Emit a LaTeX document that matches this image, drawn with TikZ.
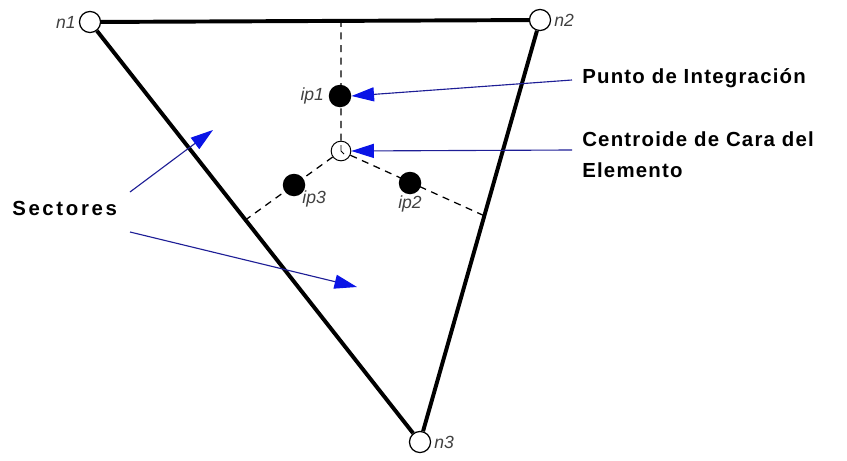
\documentclass[tikz,border=0pt]{standalone}
\usepackage{fontspec}
\setmainfont{Liberation Sans}
\usepackage{tikz}
\usetikzlibrary{positioning, arrows.meta}
\definecolor{tipblue}{HTML}{0A14E6}
\definecolor{lineblue}{HTML}{1E1E96}
\definecolor{labelgray}{HTML}{404040}

\begin{document}
\begin{tikzpicture}[x=0.025cm, y=-0.025cm,
            vertex/.style={circle, draw=black, fill=white, line width=0.9pt, minimum size=15pt, inner sep=0pt},
            gauss/.style={circle, fill=black, minimum size=16pt, inner sep=0pt},
            lbl/.style={font=\fontsize{12.5}{14}\selectfont\itshape, text=labelgray, inner sep=1pt},
            caption/.style={font=\fontsize{14.5}{22.5}\selectfont\bfseries\addfontfeature{LetterSpace=#1}, align=left, inner sep=0pt},
            caption/.default=6,
            pointer/.style={lineblue, line width=0.8pt, -{Triangle[length=16pt, width=10pt, color=tipblue]}}]
            \useasboundingbox (0,0) rectangle (847,460);
            % corners and integration points
            \node[vertex] (n1) at (90,22) {};
            \node[vertex] (n2) at (540,20) {};
            \node[vertex] (n3) at (420,442) {};
            \node[vertex, minimum size=14pt, line width=0.7pt] (cg) at (341,151) {};
            \coordinate (e12) at (341,21);
            \coordinate (e13) at (244,221);
            \coordinate (e23) at (487,217);
            \draw[line width=0.9pt, dash pattern=on 5pt off 4pt] (cg)--(e12) (cg)--(e13) (cg)--(e23);
            \draw[line width=2.8pt] (n1)--(n2) (n1)--(n3) (n2)--(n3);
            \draw[line width=0.6pt] (cg.center)--++(0,-6) (cg.center)--++(3,3);
            \node[gauss] (ip1) at (340,96) {};
            \node[gauss] (ip2) at (410,183) {};
            \node[gauss] (ip3) at (294,185) {};
            \node[lbl, left=1pt of n1] {n1};
            \node[lbl, right=1pt of n2] {n2};
            \node[lbl, right=1pt of n3] {n3};
            \node[lbl, left=2pt of ip1] {ip1};
            \node[lbl, below right=-3pt and -1pt of ip3] {ip3};
            \node[lbl, below=0pt of ip2] {ip2};
            % captions with arrows
            \node[caption, anchor=west] (punto) at (582,78) {Punto de Integración};
            \node[caption, anchor=north west] (centro) at (582,131) {Centroide de Cara del\\Elemento};
            \node[caption=13, anchor=west] (sect) at (12,208) {Sectores};
            \draw[pointer] (572,80) -- (ip1.east);
            \draw[pointer] (572,150) -- (cg.east);
            \draw[pointer] (130,192) -- (213,130);
            \draw[pointer] (130,232) -- (357,287);
        \end{tikzpicture}
\end{document}
